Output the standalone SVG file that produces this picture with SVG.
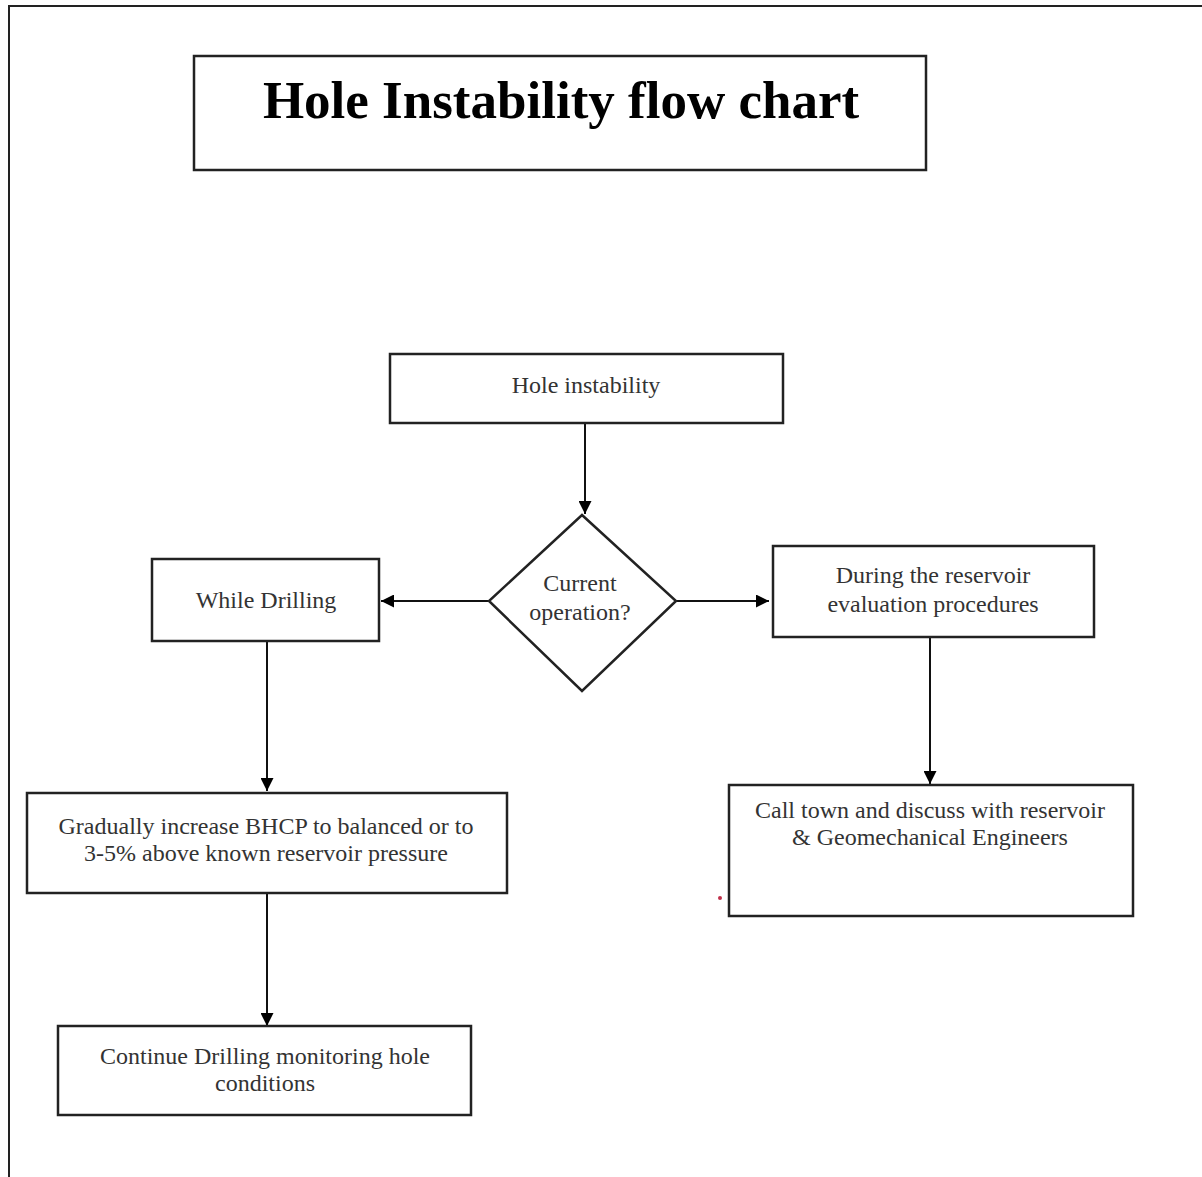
<svg xmlns="http://www.w3.org/2000/svg" width="1202" height="1177" viewBox="0 0 1202 1177">
<style>
.box{fill:#fff;stroke:#222;stroke-width:2.5}
.t{font-family:"Liberation Serif","Times New Roman",serif;font-size:24px;fill:#333;text-anchor:middle}
.title{font-family:"Liberation Serif","Times New Roman",serif;font-size:53px;font-weight:bold;fill:#000;text-anchor:middle}
.c{stroke:#111;stroke-width:2;fill:none;marker-end:url(#ah)}
</style>
<defs>
<marker id="ah" viewBox="0 0 10 10" refX="10" refY="5" markerWidth="14" markerHeight="13" orient="auto" markerUnits="userSpaceOnUse">
<path d="M0,0 L10,5 L0,10 z" fill="#000"/>
</marker>
</defs>
<rect width="1202" height="1177" fill="#fff"/>
<polyline points="9,1177 9,6 1202,6" fill="none" stroke="#222" stroke-width="2"/>
<g id="title">
<rect class="box" x="194" y="56" width="732" height="114"/>
<text class="title" x="561" y="118">Hole Instability flow chart</text>
</g>
<g id="connectors">
<path class="c" d="M585,423 V514"/>
<path class="c" d="M489,601 H381"/>
<path class="c" d="M676,601 H769"/>
<path class="c" d="M930,637 V784"/>
<path class="c" d="M267,641 V791"/>
<path class="c" d="M267,893 V1026"/>
</g>
<g id="hole">
<rect class="box" x="390" y="354" width="393" height="69"/>
<text class="t" x="586" y="393">Hole instability</text>
</g>
<g id="decision">
<polygon class="box" points="582,515 676,601 582,691 489,601" stroke-width="2"/>
<text class="t" x="580" y="591">Current</text>
<text class="t" x="580" y="620">operation?</text>
</g>
<g id="while">
<rect class="box" x="152" y="559" width="227" height="82"/>
<text class="t" x="266" y="608">While Drilling</text>
</g>
<g id="during">
<rect class="box" x="773" y="546" width="321" height="91"/>
<text class="t" x="933" y="583">During the reservoir</text>
<text class="t" x="933" y="612">evaluation procedures</text>
</g>
<g id="call">
<rect class="box" x="729" y="785" width="404" height="131"/>
<text class="t" x="930" y="818">Call town and discuss with reservoir</text>
<text class="t" x="930" y="845">&amp; Geomechanical Engineers</text>
</g>
<g id="gradually">
<rect class="box" x="27" y="793" width="480" height="100"/>
<text class="t" x="266" y="834">Gradually increase BHCP to balanced or to</text>
<text class="t" x="266" y="861">3-5% above known reservoir pressure</text>
</g>
<g id="continue">
<rect class="box" x="58" y="1026" width="413" height="89"/>
<text class="t" x="265" y="1064">Continue Drilling monitoring hole</text>
<text class="t" x="265" y="1091">conditions</text>
</g>
<circle cx="720" cy="898" r="2" fill="#c0304a"/>
</svg>
